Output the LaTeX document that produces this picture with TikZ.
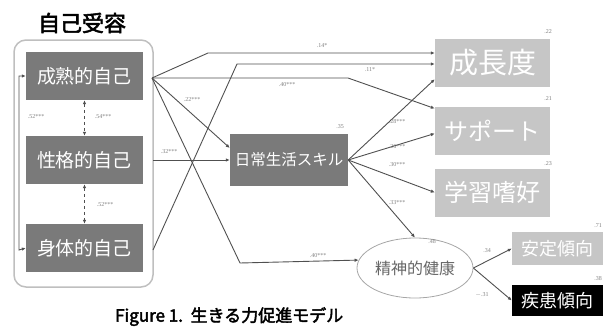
\documentclass[tikz,border=0pt]{standalone}
\usepackage{fontspec}
\setmainfont{Liberation Serif}
\newfontfamily\cjk{Noto Sans CJK JP}
\newfontfamily\cjkb[FakeBold=2.5]{Noto Sans CJK JP}
\usetikzlibrary{arrows.meta,shapes.geometric}
\definecolor{dkbox}{HTML}{7A7A7A}
\definecolor{ltbox}{HTML}{C6C6C6}
\definecolor{lncol}{HTML}{505050}
\tikzset{
  lbox/.style={fill=dkbox, text=white, minimum width=117pt, minimum height=48pt, inner sep=0pt, font=\cjk\fontsize{19}{19}\selectfont},
  rbox/.style={fill=ltbox, text=white, minimum width=115pt, minimum height=48pt, inner sep=0pt},
  conn/.style={draw=lncol, line width=0.9pt, -{Latex[length=4pt,width=3.5pt]}},
  biconn/.style={draw=lncol, line width=0.9pt, {Latex[length=4pt,width=3.5pt]}-{Latex[length=4pt,width=3.5pt]}},
  coef/.style={font=\fontsize{6}{6}\selectfont, text=gray, inner sep=0.5pt},
}
\begin{document}
\begin{tikzpicture}[x=1pt,y=-1pt]
\useasboundingbox (0,0) rectangle (603,327);
% title and group
\node (title) at (82,23) {\cjkb\fontsize{22}{22}\selectfont 自己受容};
\draw[draw=black!25, line width=1.5pt, rounded corners=12pt] (14,40) rectangle (153,287);
% left boxes
\node[lbox] (mat) at (84.5,76) {成熟的自己};
\node[lbox] (per) at (84.5,160) {性格的自己};
\node[lbox] (bod) at (84.5,248) {身体的自己};
% middle box
\node[fill=dkbox, text=white, minimum width=118pt, minimum height=52pt, inner sep=0pt, font=\cjk\fontsize{15.5}{15.5}\selectfont] (life) at (289,160) {日常生活スキル};
\node[coef] (lifer) at (340,127) {.35};
% right boxes
\node[rbox, font=\cjk\fontsize{29}{29}\selectfont] (grow) at (492.5,63) {成長度};
\node[rbox, font=\cjk\fontsize{24}{24}\selectfont] (sup) at (492.5,130.5) {サポート};
\node[rbox, font=\cjk\fontsize{24}{24}\selectfont] (stud) at (492.5,192.5) {学習嗜好};
\node[coef] (growr) at (548,32) {.22};
\node[coef] (supr) at (548,99) {.21};
\node[coef] (studr) at (548,164) {.23};
% ellipse
\node[ellipse, draw=black!35, line width=0.8pt, minimum width=116pt, minimum height=60pt, inner sep=0pt, font=\cjk\fontsize{16}{16}\selectfont, text=black!60] (ell) at (415,268) {精神的健康};
\node[coef] (ellr) at (432,242) {.48};
% outcome boxes
\node[fill=ltbox, text=white, minimum width=91pt, minimum height=33pt, inner sep=0pt, font=\cjk\fontsize{18}{18}\selectfont] (safe) at (557.5,248.5) {安定傾向};
\node[fill=black, text=white, minimum width=91pt, minimum height=31pt, inner sep=0pt, font=\cjk\fontsize{18}{18}\selectfont] (dis) at (557.5,300.5) {疾患傾向};
\node[coef] (safer) at (598,226) {.71};
\node[coef] (disr) at (598,279) {.38};
% caption
\node[anchor=north west, inner sep=0pt] (cap) at (115,307) {\cjkb\fontsize{17}{17}\selectfont Figure 1.\ \ 生きる力促進モデル};
% start points at group border
\coordinate (mo) at (152,78);
\coordinate (po) at (153,160);
\coordinate (bo) at (153,250);
% correlations among self-acceptance factors
\draw[biconn, dashed] (mat.south) -- (per.north);
\draw[biconn, dashed] (per.south) -- (bod.north);
\draw[biconn] (mat.west) -- (19,76) -- (19,250) -- (bod.west);
\node[coef] (r1) at (36,117) {.52***};
\node[coef] (r2) at (103,117) {.54***};
\node[coef] (r3) at (105,205) {.52***};
% paths
\draw[conn] (mo) -- (208,53) -- ([yshift=10pt]grow.west);
\node[coef] (p1) at (322,46) {.14*};
\draw[conn] (bo) -- (237,64) -- ([yshift=-1pt]grow.west);
\node[coef] (p2) at (370,70) {.11*};
\draw[conn] (mo) -- (348,78) -- ([yshift=22pt]sup.west);
\node[coef] (p3) at (287,85) {.40***};
\draw[conn] (mo) -- ([yshift=12pt]life.west);
\node[coef] (p4) at (192,100) {.22***};
\draw[conn] (po) -- (life.west);
\node[coef] (p5) at (169,152) {.32***};
\draw[conn] (mo) -- (240,263) -- (ell.172);
\node[coef] (p6) at (318,256) {.40***};
\draw[conn] (life.east) -- ([yshift=8pt]grow.south west);
\node[coef] (p7) at (397,122) {.28***};
\draw[conn] (life.east) -- ([yshift=-3pt]sup.west);
\node[coef] (p8) at (397,147) {.26***};
\draw[conn] (life.east) -- (stud.west);
\node[coef] (p9) at (397,165) {.30***};
\draw[conn] (life.east) -- (ell.north);
\node[coef] (p10) at (397,203) {.33***};
\draw[conn] (ell.east) -- (safe.west);
\node[coef] (p11) at (487,251) {.34};
\draw[conn] (ell.east) -- (dis.west);
\node[coef] (p12) at (482,295) {$-$.31};
\end{tikzpicture}
\end{document}
